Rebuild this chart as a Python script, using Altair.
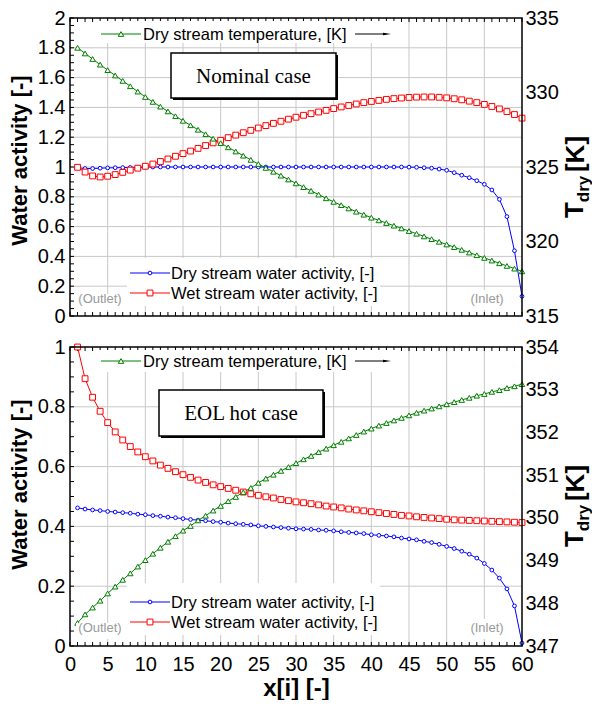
import altair as alt
import pandas as pd

FONT = "Liberation Sans"
SERIF = "Liberation Serif"
BLUE = "#0000ff"
RED = "#ff0000"
GREEN = "#008000"
GRID = "#c8c8c8"

node = list(range(1, 61))

# ---------- Nominal case (top) ----------
nominal_dry_activity = [
    0.995, 0.990, 0.990, 0.992, 0.994, 0.995, 0.996, 0.997, 0.998, 0.999,
    1.000, 1.000, 1.000, 1.000, 1.000, 1.000, 1.000, 1.000, 1.000, 1.000,
    1.000, 1.000, 1.000, 1.000, 1.000, 1.000, 1.000, 1.000, 1.000, 1.000,
    1.000, 1.000, 1.000, 1.000, 1.000, 1.000, 1.000, 1.000, 1.000, 1.000,
    1.000, 1.000, 1.000, 1.000, 0.999, 0.998, 0.995, 0.992, 0.986, 0.978,
    0.962, 0.945, 0.928, 0.908, 0.884, 0.846, 0.783, 0.667, 0.438, 0.132]
nominal_wet_activity = [
    0.998, 0.966, 0.940, 0.933, 0.938, 0.949, 0.964, 0.979, 0.992, 1.005,
    1.020, 1.037, 1.054, 1.072, 1.090, 1.107, 1.125, 1.144, 1.162, 1.179,
    1.197, 1.214, 1.230, 1.246, 1.262, 1.278, 1.293, 1.307, 1.321, 1.334,
    1.347, 1.358, 1.369, 1.380, 1.392, 1.403, 1.413, 1.423, 1.432, 1.440,
    1.447, 1.454, 1.459, 1.463, 1.467, 1.469, 1.470, 1.470, 1.468, 1.464,
    1.458, 1.451, 1.442, 1.432, 1.420, 1.406, 1.390, 1.372, 1.352, 1.328]
nominal_dry_temp = [
    333.00, 332.62, 332.25, 331.87, 331.50, 331.14, 330.78, 330.42, 330.06, 329.70,
    329.37, 329.05, 328.73, 328.41, 328.10, 327.80, 327.50, 327.20, 326.90, 326.60,
    326.32, 326.04, 325.76, 325.48, 325.20, 324.94, 324.68, 324.42, 324.16, 323.90,
    323.65, 323.40, 323.15, 322.90, 322.66, 322.44, 322.22, 322.00, 321.80, 321.60,
    321.42, 321.24, 321.06, 320.88, 320.70, 320.52, 320.34, 320.16, 319.98, 319.80,
    319.62, 319.44, 319.26, 319.08, 318.90, 318.72, 318.54, 318.36, 318.18, 318.00]

# ---------- EOL hot case (bottom) ----------
eol_dry_activity = [
    0.462, 0.458, 0.455, 0.453, 0.450, 0.448, 0.446, 0.444, 0.441, 0.439,
    0.436, 0.434, 0.431, 0.429, 0.426, 0.423, 0.421, 0.419, 0.416, 0.414,
    0.411, 0.409, 0.407, 0.405, 0.402, 0.400, 0.398, 0.396, 0.394, 0.392,
    0.391, 0.390, 0.388, 0.387, 0.385, 0.382, 0.380, 0.378, 0.376, 0.372,
    0.370, 0.368, 0.365, 0.361, 0.358, 0.355, 0.350, 0.346, 0.340, 0.333,
    0.326, 0.317, 0.307, 0.294, 0.276, 0.254, 0.227, 0.191, 0.134, 0.010]
eol_wet_activity = [
    1.000, 0.894, 0.832, 0.785, 0.747, 0.716, 0.689, 0.667, 0.649, 0.633,
    0.619, 0.605, 0.594, 0.583, 0.573, 0.564, 0.555, 0.547, 0.539, 0.533,
    0.527, 0.521, 0.515, 0.509, 0.504, 0.499, 0.495, 0.490, 0.486, 0.482,
    0.479, 0.476, 0.472, 0.468, 0.465, 0.462, 0.458, 0.455, 0.452, 0.449,
    0.446, 0.443, 0.440, 0.437, 0.435, 0.432, 0.430, 0.428, 0.426, 0.424,
    0.422, 0.421, 0.420, 0.419, 0.418, 0.417, 0.416, 0.415, 0.414, 0.413]
eol_dry_temp = [
    347.54, 347.74, 347.90, 348.06, 348.23, 348.39, 348.55, 348.70, 348.86, 349.01,
    349.16, 349.30, 349.44, 349.57, 349.70, 349.81, 349.94, 350.05, 350.17, 350.28,
    350.39, 350.49, 350.60, 350.70, 350.82, 350.92, 351.01, 351.10, 351.19, 351.28,
    351.37, 351.45, 351.54, 351.62, 351.70, 351.78, 351.86, 351.94, 352.02, 352.09,
    352.16, 352.22, 352.28, 352.34, 352.40, 352.46, 352.51, 352.56, 352.61, 352.66,
    352.71, 352.76, 352.81, 352.86, 352.90, 352.95, 352.99, 353.04, 353.08, 353.13]

# ---------- axis ticks / labels ----------
x_major = [0, 5, 10, 15, 20, 25, 30, 35, 40, 45, 50, 55, 60]
x_grid = [5, 10, 15, 20, 25, 30, 35, 40, 45, 50, 55]
x_minor = list(range(0, 61))
nominal_wa_ticks = [0, 0.2, 0.4, 0.6, 0.8, 1.0, 1.2, 1.4, 1.6, 1.8, 2.0]
nominal_wa_grid = [0.2, 0.4, 0.6, 0.8, 1.0, 1.2, 1.4, 1.6, 1.8]
nominal_wa_minor = [round(i * 0.05, 2) for i in range(41)]
nominal_t_ticks = [315, 320, 325, 330, 335]
eol_wa_ticks = [0, 0.2, 0.4, 0.6, 0.8, 1.0]
eol_wa_grid = [0.2, 0.4, 0.6, 0.8]
eol_wa_minor = [round(i * 0.05, 2) for i in range(21)]
eol_t_ticks = [347, 348, 349, 350, 351, 352, 353, 354]

legend_temp = "Dry stream temperature, [K]"
legend_dry = "Dry stream water activity, [-]"
legend_wet = "Wet stream water activity, [-]"
left_title = "Water activity  [-]"
x_title = "x[i]  [-]"

one_row = pd.DataFrame({"k": [0]})
W = 452


def vrect(x1, x2, y1, y2, **kw):
    return alt.Chart(one_row).mark_rect(**kw).encode(
        x=alt.value(x1), x2=alt.value(x2), y=alt.value(y1), y2=alt.value(y2))


def vrule(x1, x2, y1, y2, color, width=1.0):
    return alt.Chart(one_row).mark_rule(color=color, strokeWidth=width).encode(
        x=alt.value(x1), x2=alt.value(x2), y=alt.value(y1), y2=alt.value(y2))


def vtext(s, x, y, **kw):
    base = dict(font=FONT, fontSize=16.5, color="black", align="left", baseline="middle")
    base.update(kw)
    return alt.Chart(one_row).mark_text(text=s, **base).encode(x=alt.value(x), y=alt.value(y))


def vpoint(x, y, shape, size, stroke, fill="white", sw=1):
    return alt.Chart(one_row).mark_point(shape=shape, size=size, filled=True, fill=fill,
                                          stroke=stroke, strokeWidth=sw, opacity=1).encode(
        x=alt.value(x), y=alt.value(y))


def panel(dry, wet, temp, wa_max, wa_ticks, wa_grid, wa_minor, t_dom, t_ticks,
          case_text, box, H, bottom_axis, title_y, leg_y, legbox_top):
    df = pd.DataFrame({"x": node, "dry": dry, "wet": wet, "T": temp})
    xs = alt.Scale(domain=[0, 60], nice=False, zero=False)
    ys = alt.Scale(domain=[0, wa_max], nice=False, zero=False)
    ts = alt.Scale(domain=t_dom, nice=False, zero=False)

    if bottom_axis:
        xaxis = alt.Axis(orient="bottom", values=x_major, format="d", grid=False, ticks=False,
                         tickSize=0, domain=False, labelFont=FONT, labelFontSize=20,
                         labelColor="black", labelPadding=8, labelFlush=False,
                         labelOverlap=False, title=x_title, titleFont=FONT, titleFontSize=24,
                         titleFontWeight="bold", titleColor="black", titlePadding=2)
    else:
        xaxis = None
    yaxis = alt.Axis(orient="left", values=wa_ticks, format="~g", grid=False, ticks=False,
                     tickSize=0, domain=False, labelFont=FONT, labelFontSize=20,
                     labelColor="black", labelPadding=5, labelOverlap=False, labelFlush=False,
                     minExtent=33, maxExtent=33,
                     title=left_title, titleFont=FONT, titleFontSize=22,
                     titleFontWeight="bold", titleColor="black", titlePadding=6,
                     titleY=title_y)
    taxis = alt.Axis(orient="right", values=t_ticks, format="d", grid=False, ticks=False,
                     tickSize=0, domain=False, labelFont=FONT, labelFontSize=20,
                     labelColor="black", labelPadding=3, labelOverlap=False,
                     labelFlush=False, title=None)

    def X(field):
        return alt.X(field, scale=xs, axis=xaxis)

    grid_v = alt.Chart(pd.DataFrame({"g": x_grid})).mark_rule(color=GRID, strokeWidth=1).encode(
        x=X("g:Q"))
    grid_h = alt.Chart(pd.DataFrame({"g": wa_grid})).mark_rule(color=GRID, strokeWidth=1).encode(
        y=alt.Y("g:Q", scale=ys, axis=yaxis))
    tick_df = pd.DataFrame({"t": x_minor})
    xt_bot = alt.Chart(tick_df).mark_rule(color="black", strokeWidth=1).encode(
        x=X("t:Q"), y=alt.value(H), y2=alt.value(H - 4))
    xt_top = alt.Chart(tick_df).mark_rule(color="black", strokeWidth=1).encode(
        x=X("t:Q"), y=alt.value(0), y2=alt.value(4))
    yt_left = alt.Chart(pd.DataFrame({"t": wa_minor})).mark_rule(color="black", strokeWidth=1).encode(
        y=alt.Y("t:Q", scale=ys, axis=None), x=alt.value(0), x2=alt.value(4))

    base = alt.Chart(df)
    blue_line = base.mark_line(color=BLUE, strokeWidth=1).encode(
        x=X("x:Q"), y=alt.Y("dry:Q", scale=ys, axis=None))
    blue_pts = base.mark_point(shape="circle", size=14, filled=True, fill="white",
                               stroke=BLUE, strokeWidth=1, opacity=1).encode(
        x=X("x:Q"), y=alt.Y("dry:Q", scale=ys, axis=None))
    red_line = base.mark_line(color=RED, strokeWidth=1).encode(
        x=X("x:Q"), y=alt.Y("wet:Q", scale=ys, axis=None))
    red_pts = base.mark_point(shape="square", size=34, filled=True, fill="white",
                              stroke=RED, strokeWidth=1, opacity=1).encode(
        x=X("x:Q"), y=alt.Y("wet:Q", scale=ys, axis=None))
    green_line = base.mark_line(color=GREEN, strokeWidth=1).encode(
        x=X("x:Q"), y=alt.Y("T:Q", scale=ts, axis=taxis))
    green_pts = base.mark_point(shape="triangle-up", size=30, filled=True, fill="white",
                                stroke=GREEN, strokeWidth=1, opacity=1).encode(
        x=X("x:Q"), y=alt.Y("T:Q", scale=ts, axis=None))

    bx1, by1, bx2, by2 = box
    over = [
        # white backgrounds of the in-plot legends
        vrect(27, 327, 3, 25, color="white"),
        vrect(57, 310, legbox_top, 288, color="white"),
        vrect(6, 52, 276, 292, color="white"),
        vrect(397, 437, 272, 292, color="white"),
        # case label box with shadow
        vrect(bx1 + 2, bx2 + 2, by1 + 2, by2 + 2, color="black"),
        vrect(bx1, bx2, by1, by2, fill="white", stroke="black", strokeWidth=1.5),
        vtext(case_text, (bx1 + bx2) / 2, (by1 + by2) / 2 + 1, font=SERIF, fontSize=21,
              align="center"),
        # temperature legend
        vrule(31, 71, leg_y, leg_y, GREEN),
        vpoint(51, leg_y, "triangle-up", 30, GREEN),
        vtext(legend_temp, 73, leg_y + 1),
        vrule(285, 316, leg_y, leg_y, "black"),
        vpoint(317, leg_y, "M-1,-0.32L1,0L-1,0.32Z", 64, "black", fill="black", sw=0),
        # water activity legend
        vrule(60, 100, 255, 255, BLUE),
        vpoint(80, 255, "circle", 14, BLUE),
        vtext(legend_dry, 101, 256),
        vrule(60, 100, 275, 275, RED),
        vpoint(80, 275, "square", 34, RED),
        vtext(legend_wet, 101, 276),
        # inlet / outlet
        vtext("(Outlet)", 30, 281, fontSize=13, color="#999999", align="center"),
        vtext("(Inlet)", 417, 281, fontSize=13, color="#999999", align="center"),
        # plot frame
        vrect(0, W, 0, H, fillOpacity=0, stroke="black", strokeWidth=1.5),
        # right axis title T_dry [K]
        vtext("T", W + 53, 192, fontSize=26, fontWeight="bold", angle=270, align="center"),
        vtext("dry", W + 62, 171, fontSize=17, fontWeight="bold", angle=270, align="center"),
        vtext("[K]", W + 54, 136, fontSize=26, fontWeight="bold", angle=270, align="center"),
    ]

    layers = [grid_v, grid_h, xt_bot, xt_top, yt_left,
              blue_line, red_line, green_line, blue_pts, red_pts, green_pts] + over
    return alt.layer(*layers).resolve_scale(y="independent").properties(width=W, height=H)


top = panel(nominal_dry_activity, nominal_wet_activity, nominal_dry_temp, 2.0,
            nominal_wa_ticks, nominal_wa_grid, nominal_wa_minor, [315, 335], nominal_t_ticks,
            "Nominal case", (101, 35, 266, 80), 298, False, 142, 16, 240)
bottom = panel(eol_dry_activity, eol_wet_activity, eol_dry_temp, 1.0,
               eol_wa_ticks, eol_wa_grid, eol_wa_minor, [347, 354], eol_t_ticks,
               "EOL hot case", (89, 43, 253, 89), 299, True, 137, 14, 236)

chart = alt.vconcat(top, bottom, spacing=11).properties(
    padding={"left": 0, "top": 0, "right": 0, "bottom": 0}
).configure_view(stroke=None)

chart.save("out.html", embed_options={"renderer": "svg", "actions": False})
